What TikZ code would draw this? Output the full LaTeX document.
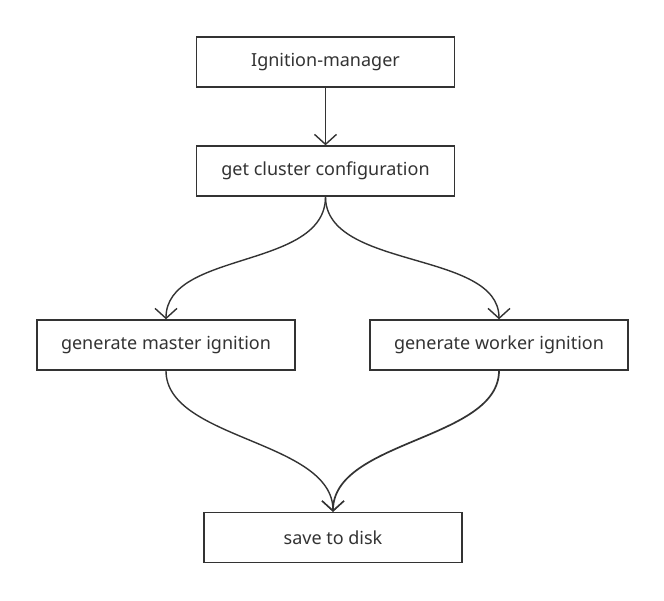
\documentclass[tikz,border=0pt]{standalone}
\usepackage{fontspec}
\setmainfont{Noto Sans}
\usetikzlibrary{arrows.meta}
\definecolor{ink}{HTML}{333333}
\begin{document}
\begin{tikzpicture}[x=1pt,y=-1pt,
  box/.style={draw=ink,line width=1.4pt,minimum width=258pt,minimum height=50pt,inner sep=0pt,text=ink,font=\fontsize{18pt}{21pt}\selectfont},
  conn/.style={draw=ink,line width=1.4pt,-{Straight Barb[length=10pt,width=22pt,line width=1.4pt]}}]
\useasboundingbox (0,0) rectangle (664,600);
\fill[white] (0,0) rectangle (664,600);
\node[box] (im) at (325.5,62) {Ignition-manager};
\node[box] (gc) at (325.5,171) {get cluster configuration};
\node[box] (gm) at (166,345) {generate master ignition};
\node[box] (gw) at (499,345) {generate worker ignition};
\node[box] (sd) at (333,537.5) {save to disk};
\draw[conn] (im) -- (gc);
\draw[conn] (gc.south) .. controls (325.5,270) and (166,250) .. (gm.north);
\draw[conn] (gc.south) .. controls (325.5,270) and (499,250) .. (gw.north);
\draw[conn] (gm.south) .. controls (166,440) and (333,440) .. (sd.north);
\draw[conn,line width=1.7pt] (gw.south) .. controls (499,440) and (333,440) .. (sd.north);
\end{tikzpicture}
\end{document}
